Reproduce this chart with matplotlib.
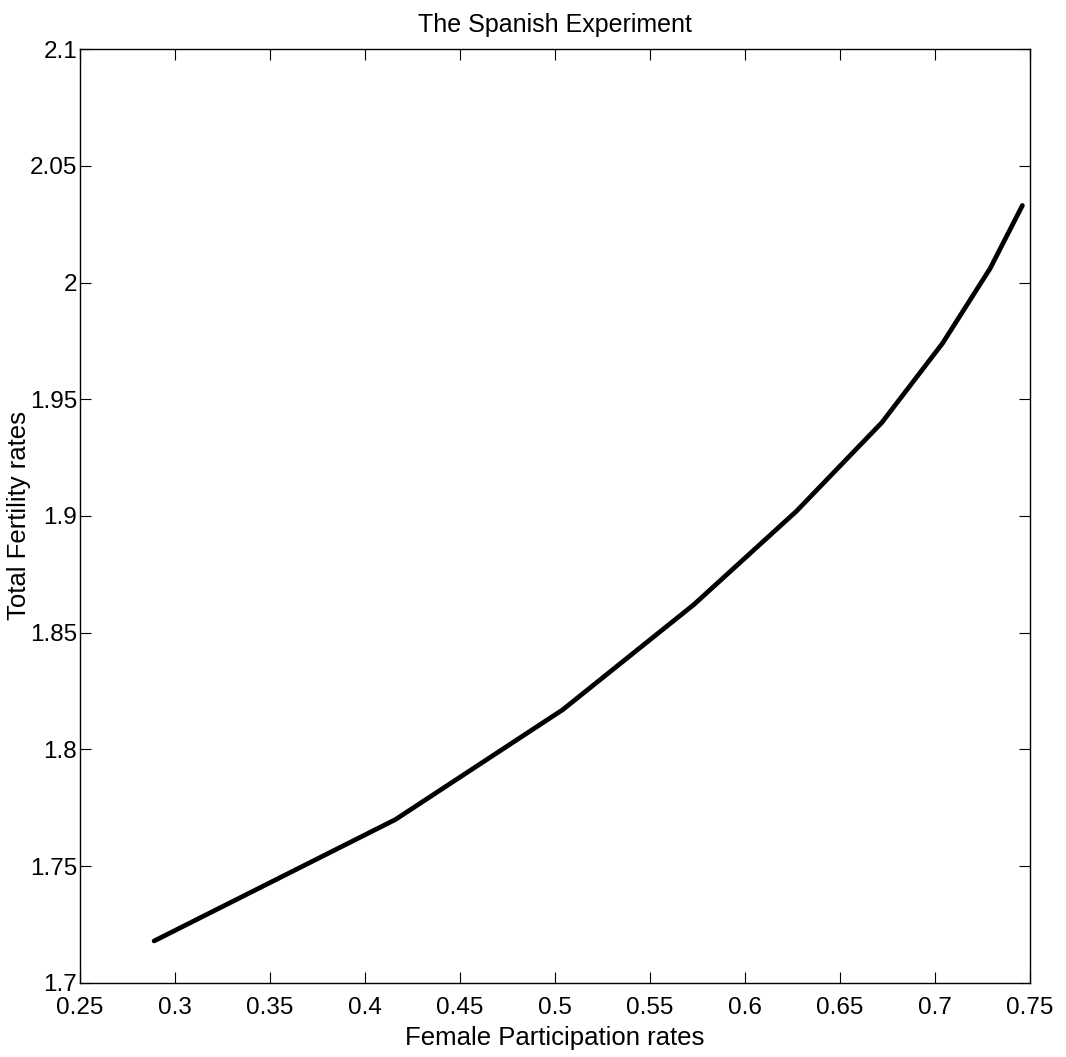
import matplotlib
matplotlib.use("Agg")
import matplotlib.pyplot as plt
from matplotlib.ticker import FuncFormatter, MultipleLocator

# female participation vs total fertility
participation = [0.289, 0.416, 0.504, 0.573, 0.627, 0.672, 0.704, 0.729, 0.746]
fertility = [1.718, 1.770, 1.817, 1.862, 1.902, 1.940, 1.974, 2.006, 2.033]

plt.rcParams['font.family'] = ['Liberation Sans', 'DejaVu Sans']

fig = plt.figure(figsize=(10.66, 10.57), dpi=100)
ax = fig.add_axes([80 / 1066, 1 - 983 / 1057, 950 / 1066, 934 / 1057])

ax.plot(participation, fertility, color='black', linewidth=3.4, solid_capstyle='round')

ax.set_xlim(0.25, 0.75)
ax.set_ylim(1.7, 2.1)
ax.xaxis.set_major_locator(MultipleLocator(0.05))
ax.yaxis.set_major_locator(MultipleLocator(0.05))
fmt = FuncFormatter(lambda v, pos: '%g' % round(v, 4))
ax.xaxis.set_major_formatter(fmt)
ax.yaxis.set_major_formatter(fmt)

ax.tick_params(direction='in', top=True, right=True, length=8, width=0.8,
               labelsize=17.5)
ax.tick_params(axis='x', pad=10)
ax.tick_params(axis='y', pad=2)
for sp in ax.spines.values():
    sp.set_linewidth(1.0)

ax.set_title('The Spanish Experiment', fontsize=18, pad=12)
ax.set_xlabel('Female Participation rates', fontsize=18.5, labelpad=5)
ax.set_ylabel('Total Fertility rates', fontsize=18.5, labelpad=-1)

fig.savefig('out.png', dpi=100)
